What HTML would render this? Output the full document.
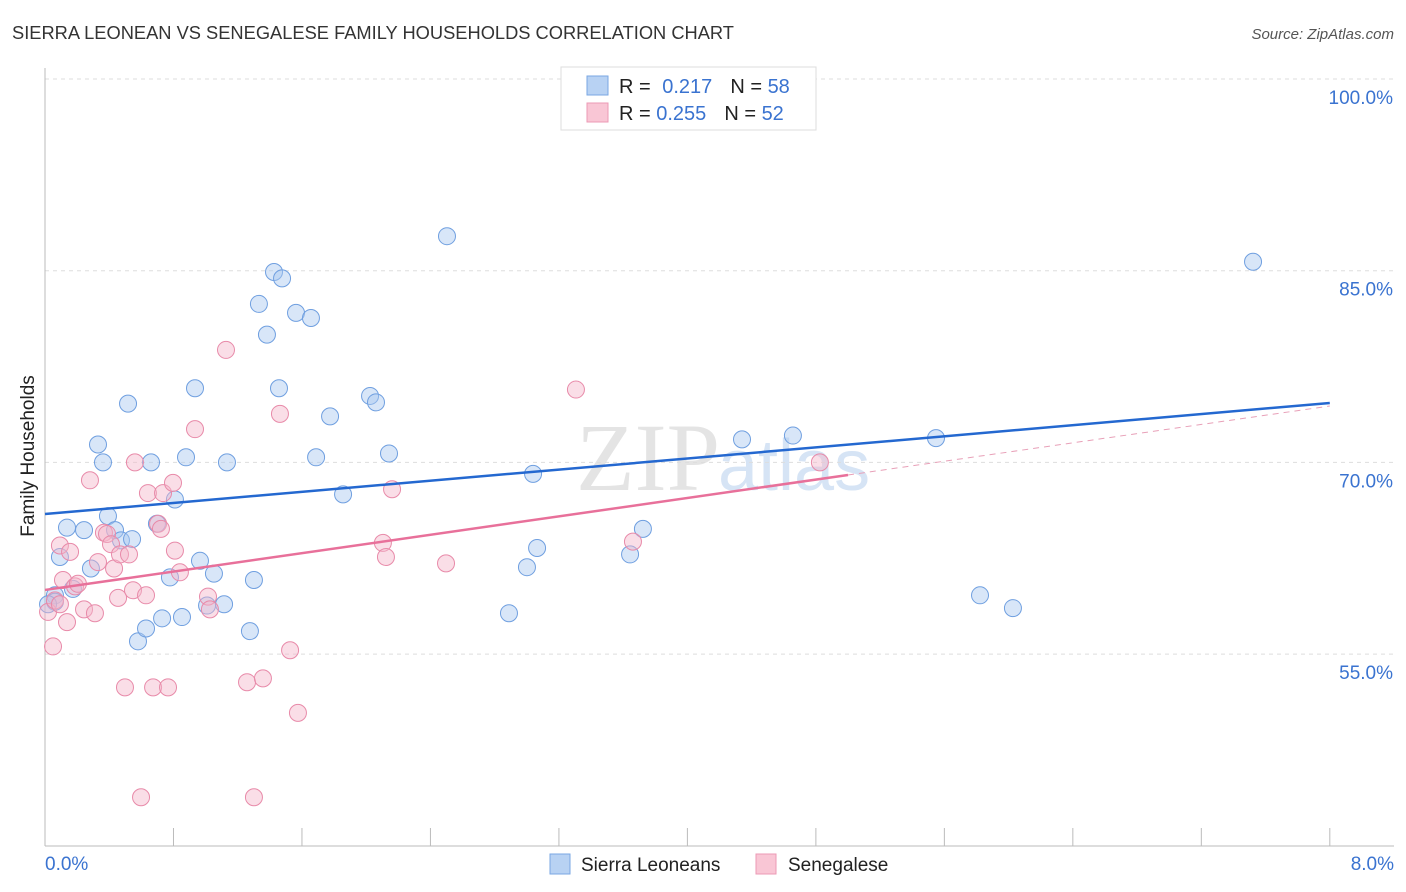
<!DOCTYPE html>
<html><head><meta charset="utf-8"><style>
body{margin:0;background:#fff;font-family:"Liberation Sans",sans-serif;}
svg{display:block}
</style></head><body>
<svg id="c" width="1406" height="892" xmlns="http://www.w3.org/2000/svg">
<text x="12" y="39" font-size="18.3" fill="#333">SIERRA LEONEAN VS SENEGALESE FAMILY HOUSEHOLDS CORRELATION CHART</text>
<text x="1394" y="39" font-size="15" fill="#555" font-style="italic" text-anchor="end">Source: ZipAtlas.com</text>
<text x="720" y="490" font-size="96" fill="#e4e4e4" font-family="Liberation Serif,serif" text-anchor="end">ZIP</text>
<text x="718" y="490" font-size="72" fill="#d6e4f5">atlas</text>
<g id="grid"></g>
<line x1="45" y1="68" x2="45" y2="846" stroke="#bbb"/>
<line x1="45" y1="846" x2="1394" y2="846" stroke="#bbb"/>
<g id="ticks"></g>
<g id="pts"></g>
<g id="lines"></g>
<text transform="translate(34,456) rotate(-90)" font-size="19" fill="#222" text-anchor="middle">Family Households</text>
<text x="45" y="870" font-size="19" fill="#3a73d0">0.0%</text>
<text x="1394" y="870" font-size="19" fill="#3a73d0" text-anchor="end">8.0%</text>
<g>
<rect x="561" y="67" width="255" height="63" fill="#fff" stroke="#ddd"/>
<rect x="587" y="76" width="21" height="19" fill="#b8d2f3" stroke="#7aa7e3"/>
<rect x="587" y="103" width="21" height="19" fill="#f9c6d5" stroke="#ec9ab5"/>
<text x="619" y="93" font-size="20" fill="#222">R = <tspan fill="#3a73d0" dx="6">0.217</tspan><tspan dx="18" fill="#222">N = </tspan><tspan fill="#3a73d0">58</tspan></text>
<text x="619" y="120" font-size="20" fill="#222">R = <tspan fill="#3a73d0">0.255</tspan><tspan dx="18" fill="#222">N = </tspan><tspan fill="#3a73d0">52</tspan></text>
</g>
<g>
<rect x="550" y="854" width="20" height="20" fill="#b8d2f3" stroke="#7aa7e3"/>
<text x="581" y="871" font-size="19" fill="#222">Sierra Leoneans</text>
<rect x="756" y="854" width="20" height="20" fill="#f9c6d5" stroke="#ec9ab5"/>
<text x="788" y="871" font-size="19" fill="#222">Senegalese</text>
</g>
</svg>
<script>
const yTicks=[100,85,70,55];
const xTicks=[0,0.8,1.6,2.4,3.2,4,4.8,5.6,6.4,7.2,8];
const blueX=[0.062,0.062,0.019,0.093,0.137,0.174,0.243,0.286,0.330,0.361,0.392,0.436,0.473,0.517,0.542,0.579,0.629,0.660,0.697,0.729,0.778,0.809,0.853,0.878,0.934,0.965,1.009,1.052,1.115,1.133,1.276,1.301,1.332,1.382,1.426,1.476,1.457,1.563,1.656,1.688,1.775,1.856,2.024,2.061,2.142,2.503,2.889,3.001,3.039,3.064,3.643,3.723,4.340,4.657,5.548,5.822,6.027,7.522];
const blueY=[59.6,59.1,58.9,62.6,64.9,60.1,64.7,61.7,71.4,70.0,65.8,64.7,63.9,74.6,64.0,56.0,57.0,70.0,65.2,57.8,61.0,67.1,57.9,70.4,75.8,62.3,58.8,61.3,58.9,70.0,56.8,60.8,82.4,80.0,84.9,84.4,75.8,81.7,81.3,70.4,73.6,67.5,75.2,74.7,70.7,87.7,58.2,61.8,69.1,63.3,62.8,64.8,71.8,72.1,71.9,59.6,58.6,85.7];
const pinkX=[0.019,0.050,0.062,0.093,0.112,0.137,0.156,0.187,0.205,0.243,0.280,0.311,0.330,0.367,0.386,0.411,0.430,0.455,0.467,0.498,0.523,0.548,0.560,0.598,0.629,0.641,0.673,0.704,0.722,0.735,0.766,0.797,0.809,0.840,0.934,1.015,1.027,1.127,1.258,1.301,1.357,1.463,1.526,1.575,2.104,2.123,2.161,2.497,3.306,3.661,4.825,0.093];
const pinkY=[58.3,55.6,59.2,63.5,60.8,57.5,63.0,60.3,60.5,58.5,68.6,58.2,62.2,64.5,64.4,63.6,61.7,59.4,62.8,52.4,62.8,60.0,70.0,43.8,59.6,67.6,52.4,65.2,64.8,67.6,52.4,68.4,63.1,61.4,72.6,59.5,58.5,78.8,52.8,43.8,53.1,73.8,55.3,50.4,63.7,62.6,67.9,62.1,75.7,63.8,70.0,58.9];
const blueLine=[65.96,74.65];
const pinkLine=[60.02,74.41];
const NS='http://www.w3.org/2000/svg';
const X=v=>45+v*160.6, Y=v=>79+(100-v)*12.78;
function mk(t,a,p){const e=document.createElementNS(NS,t);for(const k in a)e.setAttribute(k,a[k]);document.getElementById(p).appendChild(e);return e;}
yTicks.forEach(v=>{
 const l=mk('line',{x1:45,x2:1394,y1:Y(v),y2:Y(v),stroke:'#ddd','stroke-dasharray':'4,4'},'grid');
 
 
 const t=mk('text',{x:1393,y:Y(v)+25,'font-size':19,fill:'#3a73d0','text-anchor':'end'},'grid');
 t.textContent=v.toFixed(1)+'%';
 
 
});
xTicks.forEach(v=>{
 const l=mk('line',{x1:X(v),x2:X(v),y1:828,y2:846,stroke:'#bbb'},'ticks');
 
 
});
function pts(xs,ys,fill,stroke,name){xs.forEach((x,i)=>{
 const c=mk('circle',{cx:X(x),cy:Y(ys[i]),r:8.5,fill:fill,'fill-opacity':0.45,stroke:stroke,'stroke-width':1},'pts');
 
 
});}
pts(blueX,blueY,'#a9c8f0','#6f9fe0','point-sierra-leonean');
pts(pinkX,pinkY,'#f5b5ca','#e88aa9','point-senegalese');
const bl=mk('line',{x1:X(0),y1:Y(blueLine[0]),x2:X(8),y2:Y(blueLine[1]),stroke:'#2468d0','stroke-width':2.5},'lines');


const pm=pinkLine[0]+(pinkLine[1]-pinkLine[0])*(5/8);
const pl=mk('line',{x1:X(0),y1:Y(pinkLine[0]),x2:X(5),y2:Y(pm),stroke:'#e8709a','stroke-width':2.5},'lines');


const pd=mk('line',{x1:X(5),y1:Y(pm),x2:X(8),y2:Y(pinkLine[1]),stroke:'#e8a0b8','stroke-width':1,'stroke-dasharray':'6,5'},'lines');


</script>
</body></html>
